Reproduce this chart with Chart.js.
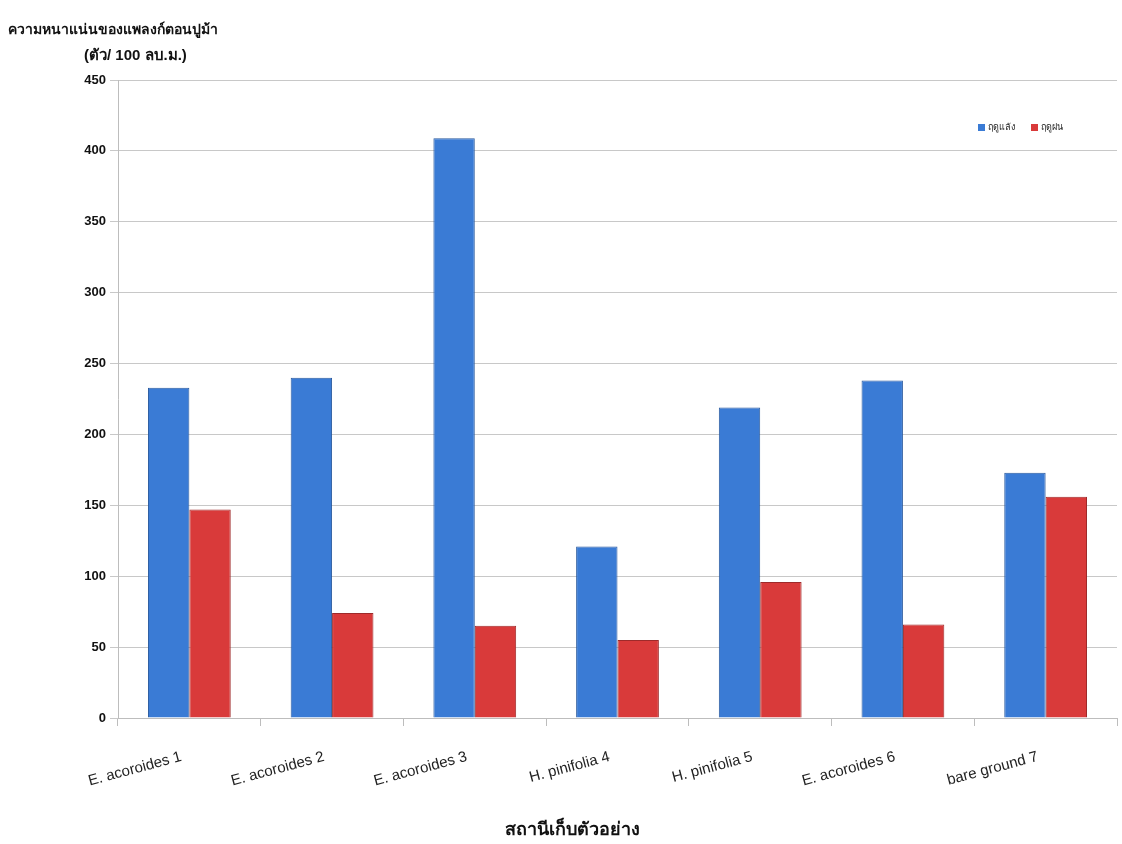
<!DOCTYPE html>
<html>
<head>
<meta charset="utf-8">
<script src="https://cdn.jsdelivr.net/npm/chart.js@4/dist/chart.umd.min.js"></script>
<style>
  html, body { margin: 0; padding: 0; background: #fff; }
  #wrap { width: 1122px; height: 844px; }
</style>
</head>
<body>
<div id="wrap"><canvas id="plankChart" width="1122" height="844"></canvas></div>
<script>
// สถานีเก็บตัวอย่าง
const stations = ['E. acoroides 1', 'E. acoroides 2', 'E. acoroides 3', 'H. pinifolia 4', 'H. pinifolia 5', 'E. acoroides 6', 'bare ground 7'];
const drySeason = [233, 240, 409, 121, 219, 238, 173];
const rainySeason = [147, 74, 65, 55, 96, 66, 156];
const seriesNames = ['ฤดูแล้ง', 'ฤดูฝน'];
const yTitleLines = ['ความหนาแน่นของแพลงก์ตอนปูม้า', '(ตัว/ 100 ลบ.ม.)'];
const xTitle = 'สถานีเก็บตัวอย่าง';

const fontFam = '"Liberation Sans", Arial, sans-serif';

// ชื่อแกน x, y กับ legend เล็กๆ มุมขวาบน
const extraText = {
    id: 'extraText',
    afterDraw(chart) {
        const c = chart.ctx;
        const area = chart.chartArea;
        c.save();
        c.fillStyle = '#111';
        c.textBaseline = 'middle';
        c.textAlign = 'left';
        c.font = 'bold 14px ' + fontFam;
        c.fillText(yTitleLines[0], 8, 30);
        c.font = 'bold 15px ' + fontFam;
        c.fillText(yTitleLines[1], 84, 56);

        c.textAlign = 'center';
        c.font = 'bold 18px ' + fontFam;
        c.fillText(xTitle, area.left + 454, 830);

        // legend
        c.textAlign = 'left';
        let x = area.right - 139;
        const y = area.top + 47;
        c.font = '9px ' + fontFam;
        chart.data.datasets.forEach(ds => {
            c.fillStyle = ds.backgroundColor;
            c.fillRect(x, y - 3, 7, 7);
            c.fillStyle = '#222';
            c.fillText(ds.label, x + 10, y + 1);
            x += 10 + c.measureText(ds.label).width + 16;
        });
        c.restore();
    }
};

const ctx = document.getElementById('plankChart').getContext('2d');

new Chart(ctx, {
    type: 'bar',
    data: {
        labels: stations,
        datasets: [
            {
                label: seriesNames[0],
                data: drySeason,
                backgroundColor: '#3a7bd5',
                borderColor: '#2a5a9e',
                borderWidth: 1
            },
            {
                label: seriesNames[1],
                data: rainySeason,
                backgroundColor: '#d93a3a',
                borderColor: '#9e2a2a',
                borderWidth: 1
            }
        ]
    },
    options: {
        responsive: false,
        animation: false,
        layout: {
            padding: { top: 80, right: 5, left: 0, bottom: 0 }
        },
        datasets: {
            bar: {
                categoryPercentage: 0.58,
                barPercentage: 1.0
            }
        },
        scales: {
            x: {
                grid: {
                    drawOnChartArea: false,
                    drawTicks: true,
                    tickLength: 8,
                    color: '#bdbdbd'
                },
                border: { color: '#bdbdbd' },
                ticks: {
                    minRotation: 15,
                    maxRotation: 15,
                    padding: 22,
                    labelOffset: -8,
                    color: '#222',
                    font: { family: fontFam, size: 15 }
                },
                afterFit(scale) {
                    scale.height = 126;
                }
            },
            y: {
                min: 0,
                max: 450,
                ticks: {
                    stepSize: 50,
                    padding: 4,
                    color: '#111',
                    font: { family: fontFam, size: 13, weight: 'bold' }
                },
                grid: {
                    color: '#c8c8c8',
                    tickLength: 8
                },
                border: { color: '#bdbdbd' },
                afterFit(scale) {
                    scale.width = 118;
                }
            }
        },
        plugins: {
            legend: { display: false },
            tooltip: { enabled: false }
        }
    },
    plugins: [extraText]
});
</script>
</body>
</html>
